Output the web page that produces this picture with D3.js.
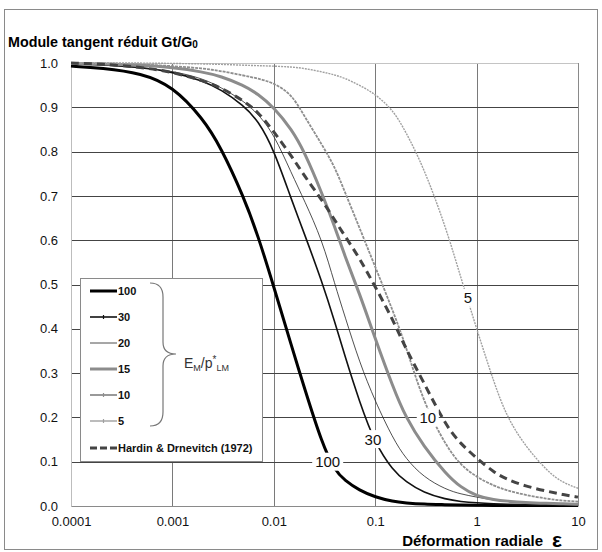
<!DOCTYPE html>
<html>
<head>
<meta charset="utf-8">
<script src="https://cdn.jsdelivr.net/npm/d3@7"></script>
<style>
  body { margin: 0; background: #fff; }
  text { font-family: "Liberation Sans", Arial, sans-serif; }
</style>
</head>
<body>
<div id="chart"></div>
<script>

// strain values (x) shared by every curve
var strain = [0.0001, 0.0002, 0.0005, 0.001, 0.002, 0.003, 0.005, 0.007, 0.01, 0.015, 0.02, 0.03, 0.04, 0.05,
              0.07, 0.1, 0.15, 0.2, 0.3, 0.5, 0.7, 1, 1.5, 2, 3, 5, 7, 10];

// Gt/G0, one array per E_M/p*_LM value
var g100 = [0.993, 0.989, 0.977, 0.948, 0.875, 0.81, 0.70, 0.61, 0.495, 0.36, 0.267, 0.14, 0.08, 0.058,
            0.035, 0.02, 0.01, 0.007, 0.004, 0.003, 0.002, 0.002, 0.001, 0.001, 0.001, 0.001, 0.001, 0.001];
var g30  = [0.998, 0.996, 0.99, 0.98, 0.96, 0.94, 0.905, 0.87, 0.805, 0.69, 0.615, 0.505, 0.415, 0.34,
            0.235, 0.14, 0.08, 0.055, 0.03, 0.015, 0.01, 0.007, 0.005, 0.004, 0.003, 0.002, 0.002, 0.001];
var g20  = [0.998, 0.996, 0.99, 0.982, 0.965, 0.945, 0.915, 0.885, 0.84, 0.75, 0.69, 0.6, 0.5, 0.43,
            0.324, 0.236, 0.152, 0.107, 0.065, 0.037, 0.027, 0.02, 0.013, 0.01, 0.007, 0.005, 0.004, 0.003];
var g15  = [0.999, 0.998, 0.995, 0.99, 0.98, 0.97, 0.95, 0.93, 0.9, 0.85, 0.8, 0.705, 0.63, 0.565,
            0.48, 0.378, 0.268, 0.2, 0.135, 0.072, 0.042, 0.022, 0.014, 0.011, 0.008, 0.006, 0.005, 0.004];
var g10  = [1.0, 0.999, 0.997, 0.993, 0.988, 0.982, 0.972, 0.965, 0.955, 0.93, 0.88, 0.815, 0.765, 0.71,
            0.628, 0.54, 0.44, 0.362, 0.233, 0.135, 0.092, 0.065, 0.045, 0.035, 0.025, 0.016, 0.012, 0.01];
var g5   = [1.0, 1.0, 1.0, 0.999, 0.998, 0.997, 0.995, 0.994, 0.993, 0.991, 0.988, 0.98, 0.973, 0.966,
            0.95, 0.93, 0.894, 0.845, 0.765, 0.628, 0.515, 0.4, 0.275, 0.2, 0.136, 0.078, 0.053, 0.04];
var hardin = [1.0, 0.998, 0.99, 0.98, 0.96, 0.945, 0.915, 0.89, 0.845, 0.79, 0.745, 0.69, 0.645, 0.61,
              0.56, 0.495, 0.42, 0.355, 0.28, 0.18, 0.14, 0.108, 0.075, 0.06, 0.045, 0.033, 0.026, 0.02];

var xTicks = [0.0001, 0.001, 0.01, 0.1, 1, 10];
var xTickLabels = ["0.0001", "0.001", "0.01", "0.1", "1", "10"];
var yTicks = [0, 0.1, 0.2, 0.3, 0.4, 0.5, 0.6, 0.7, 0.8, 0.9, 1.0];

var curveLabels = ["100", "30", "10", "5"];
var curveLabelX = [0.034, 0.095, 0.33, 0.82];
var curveLabelY = [0.1, 0.151, 0.2, 0.47];


var W = 602, H = 552;
var margin = {top: 63, right: 24, bottom: 46, left: 71},
    width = W - margin.left - margin.right,
    height = H - margin.top - margin.bottom;

var root = d3.select("#chart").append("svg")
    .attr("width", W)
    .attr("height", H);

// outer frame
root.append("rect")
    .attr("x", 4.5).attr("y", 9.5)
    .attr("width", 593).attr("height", 540)
    .attr("fill", "none").attr("stroke", "#8a8a8a");

var svg = root.append("g")
    .attr("transform", "translate(" + margin.left + "," + margin.top + ")");

var x = d3.scaleLog().domain([0.0001, 10]).range([0, width]);
var y = d3.scaleLinear().domain([0, 1]).range([height, 0]);

// vertical grid
svg.append("g")
    .selectAll("line")
    .data(xTicks.slice(1, -1))
    .enter().append("line")
      .attr("x1", function(d) { return Math.round(x(d)) + 0.5; })
      .attr("x2", function(d) { return Math.round(x(d)) + 0.5; })
      .attr("y1", 0).attr("y2", height)
      .attr("stroke", "#7a7a7a");

// horizontal grid
svg.append("g")
    .selectAll("line")
    .data(yTicks.slice(1, -1))
    .enter().append("line")
      .attr("x1", 0).attr("x2", width)
      .attr("y1", function(d) { return Math.round(y(d)) + 0.5; })
      .attr("y2", function(d) { return Math.round(y(d)) + 0.5; })
      .attr("stroke", "#444");

// plot border (top light, right grey)
svg.append("line").attr("x1", 0).attr("x2", width).attr("y1", 0.5).attr("y2", 0.5).attr("stroke", "#c4c4c4");
svg.append("line").attr("x1", width + 0.5).attr("x2", width + 0.5).attr("y1", 0).attr("y2", height).attr("stroke", "#8a8a8a");

// axes
var yAxis = svg.append("g")
    .call(d3.axisLeft(y).tickValues(yTicks).tickFormat(d3.format(".1f")).tickSize(0).tickPadding(13));
yAxis.select(".domain").attr("stroke", "#bdbdbd");
yAxis.selectAll("text").style("font-size", "13px").attr("fill", "#111");

var xAxis = svg.append("g")
    .attr("transform", "translate(0," + height + ")")
    .call(d3.axisBottom(x).tickValues(xTicks)
      .tickFormat(function(d, i) { return xTickLabels[i]; }).tickSize(0).tickPadding(11));
xAxis.select(".domain").attr("stroke", "#8a8a8a");
xAxis.selectAll("text").style("font-size", "13px").attr("fill", "#111");

// curves
var series = [
  {name: "100", values: g100, stroke: "#000", width: 3, dash: null, marker: false},
  {name: "30", values: g30, stroke: "#111", width: 1.6, dash: null, marker: true},
  {name: "20", values: g20, stroke: "#222", width: 0.8, dash: null, marker: false},
  {name: "15", values: g15, stroke: "#8c8c8c", width: 3, dash: null, marker: false},
  {name: "10", values: g10, stroke: "#8e8e8e", width: 1.8, dash: "3,1", marker: true},
  {name: "5", values: g5, stroke: "#a0a0a0", width: 1.4, dash: "2,1", marker: true},
  {name: "Hardin & Drnevitch (1972)", values: hardin, stroke: "#444", width: 3, dash: "8,5", marker: false}
];

var line = d3.line()
    .x(function(d, i) { return x(strain[i]); })
    .y(function(d) { return y(d); })
    .curve(d3.curveBasis);

svg.append("g").selectAll("path")
  .data(series)
  .enter().append("path")
    .attr("d", function(s) { return line(s.values); })
    .attr("fill", "none")
    .attr("stroke", function(s) { return s.stroke; })
    .attr("stroke-width", function(s) { return s.width; })
    .attr("stroke-dasharray", function(s) { return s.dash; });

// labels sitting on the curves
var lab = svg.append("g").selectAll("g")
  .data(curveLabels)
  .enter().append("g")
    .attr("transform", function(d, i) { return "translate(" + x(curveLabelX[i]) + "," + y(curveLabelY[i]) + ")"; });
lab.append("rect")
    .attr("x", function(d) { return -d.length * 4.5 - 2; })
    .attr("y", -9)
    .attr("width", function(d) { return d.length * 9 + 4; })
    .attr("height", 18)
    .attr("fill", "#fff");
lab.append("text")
    .attr("text-anchor", "middle")
    .attr("dy", "0.36em")
    .style("font-size", "15px")
    .attr("fill", "#111")
    .text(function(d) { return d; });

// legend
var leg = root.append("g");
leg.append("rect")
    .attr("x", 80.5).attr("y", 278.5)
    .attr("width", 182).attr("height", 183)
    .attr("fill", "#fff").attr("stroke", "#8a8a8a");

var rows = leg.selectAll("g.row")
  .data(series)
  .enter().append("g")
    .attr("class", "row")
    .attr("transform", function(d, i) { return "translate(90," + (i < 6 ? 291 + i * 26 : 448) + ")"; });
rows.append("line")
    .attr("x1", 0).attr("x2", 27)
    .attr("stroke", function(s) { return s.stroke; })
    .attr("stroke-width", function(s) { return s.width; })
    .attr("stroke-dasharray", function(s, i) { return i === 6 ? "7,3" : null; });
rows.filter(function(s) { return s.marker; })
  .append("line")
    .attr("x1", 13.5).attr("x2", 13.5)
    .attr("y1", -2).attr("y2", 2)
    .attr("stroke", function(s) { return s.stroke; })
    .attr("stroke-width", 1.2);
rows.append("text")
    .attr("x", 28)
    .attr("dy", "0.36em")
    .style("font-size", "11px")
    .style("font-weight", "bold")
    .attr("fill", "#111")
    .text(function(s) { return s.name; });

// curly brace
leg.append("path")
    .attr("d", "M150,283 Q163,283 163,297 L163,342 Q163,354 176,354 Q163,354 163,366 L163,412 Q163,426 150,426")
    .attr("fill", "none")
    .attr("stroke", "#777")
    .attr("stroke-width", 1.2);

var em = leg.append("text")
    .attr("x", 184).attr("y", 368)
    .style("font-size", "14px")
    .attr("fill", "#333");
em.append("tspan").text("E");
em.append("tspan").attr("dy", 3).style("font-size", "9px").text("M");
em.append("tspan").attr("dy", -3).text("/p");
em.append("tspan").attr("dy", -5).style("font-size", "10px").text("*");
em.append("tspan").attr("dy", 8).style("font-size", "9px").text("LM");

// titles
var title = root.append("text")
    .attr("x", 8).attr("y", 47)
    .style("font-size", "14.3px")
    .style("font-weight", "bold")
    .attr("fill", "#000");
title.append("tspan").text("Module tangent réduit Gt/G");
title.append("tspan").attr("dy", 1).style("font-size", "10px").text("0");

root.append("text")
    .attr("x", 543).attr("y", 546)
    .attr("text-anchor", "end")
    .style("font-size", "15px")
    .style("font-weight", "bold")
    .attr("fill", "#000")
    .text("Déformation radiale");
root.append("text")
    .attr("x", 552).attr("y", 547)
    .style("font-size", "21px")
    .style("font-weight", "bold")
    .attr("fill", "#000")
    .text("ε");

</script>
</body>
</html>
